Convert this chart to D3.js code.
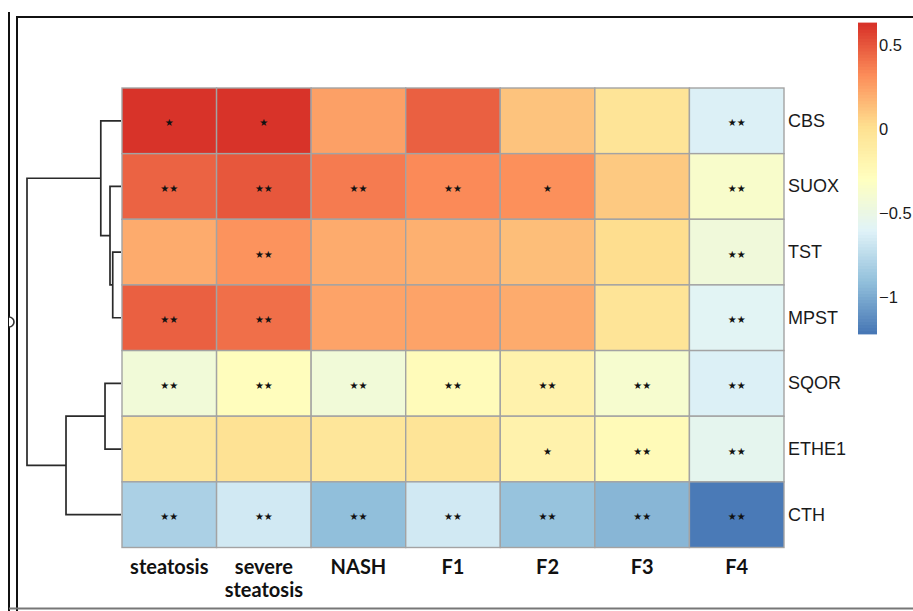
<!DOCTYPE html>
<html>
<head>
<meta charset="utf-8">
<script src="https://cdn.jsdelivr.net/npm/d3@7"></script>
<style>
  body { margin: 0; background: #fff; }
  svg { display: block; }
</style>
</head>
<body>
<svg id="chart" width="913" height="611"></svg>
<script>
// ---- data -------------------------------------------------------------
const genes  = ["CBS", "SUOX", "TST", "MPST", "SQOR", "ETHE1", "CTH"];
const stages = ["steatosis", "severe steatosis", "NASH", "F1", "F2", "F3", "F4"];

// log fold change per gene across the disease stages
const valCBS   = [ 0.62,  0.62,  0.25,  0.47,  0.12, -0.03, -0.62];
const valSUOX  = [ 0.46,  0.50,  0.38,  0.33,  0.31,  0.10, -0.36];
const valTST   = [ 0.21,  0.30,  0.21,  0.19,  0.14,  0.02, -0.44];
const valMPST  = [ 0.47,  0.42,  0.24,  0.24,  0.21, -0.03, -0.58];
const valSQOR  = [-0.43, -0.28, -0.43, -0.26, -0.17, -0.38, -0.62];
const valETHE1 = [-0.05, -0.01, -0.05, -0.03, -0.17, -0.25, -0.55];
const valCTH   = [-0.81, -0.66, -0.91, -0.66, -0.89, -0.95, -1.20];

// significance marks per gene
const sigCBS   = ["*",  "*",  "",   "",   "",   "",   "**"];
const sigSUOX  = ["**", "**", "**", "**", "*",  "",   "**"];
const sigTST   = ["",   "**", "",   "",   "",   "",   "**"];
const sigMPST  = ["**", "**", "",   "",   "",   "",   "**"];
const sigSQOR  = ["**", "**", "**", "**", "**", "**", "**"];
const sigETHE1 = ["",   "",   "",   "",   "*",  "**", "**"];
const sigCTH   = ["**", "**", "**", "**", "**", "**", "**"];

// row clustering (merge heights, relative)
const rowTree = {
  height: 1.0, children: [
    { height: 0.215, children: [
      { name: "CBS" },
      { height: 0.117, children: [
        { name: "SUOX" },
        { height: 0.088, children: [{ name: "TST" }, { name: "MPST" }] }
      ]}
    ]},
    { height: 0.585, children: [
      { height: 0.17, children: [{ name: "SQOR" }, { name: "ETHE1" }] },
      { name: "CTH" }
    ]}
  ]
};

const legendTicks = [0.5, 0, -0.5, -1];
const colorDomain = [-1.22, 0.63];
const palette = ["#4575B4", "#91BFDB", "#E0F3F8", "#FFFFBF", "#FEE090", "#FC8D59", "#D73027"];

// ---- build matrix -----------------------------------------------------
const values = [valCBS, valSUOX, valTST, valMPST, valSQOR, valETHE1, valCTH];
const marks  = [sigCBS, sigSUOX, sigTST, sigMPST, sigSQOR, sigETHE1, sigCTH];
const cells = [];
genes.forEach((g, i) => stages.forEach((s, j) =>
  cells.push({ gene: g, stage: s, value: values[i][j], mark: marks[i][j] })));

// ---- scales -------------------------------------------------------------
const svg = d3.select("#chart");

const x = d3.scaleBand().domain(stages).range([122, 784]);
const y = d3.scaleBand().domain(genes).range([88, 547.5]);

const stops = d3.range(palette.length).map(k =>
  colorDomain[0] + (colorDomain[1] - colorDomain[0]) * k / (palette.length - 1));
const color = d3.scaleLinear().domain(stops).range(palette).interpolate(d3.interpolateRgb).clamp(true);

// ---- outer frame ----------------------------------------------------------
const frame = svg.append("g").attr("fill", "none");
frame.append("line").attr("x1", 9).attr("x2", 9).attr("y1", 12).attr("y2", 611)
  .attr("stroke", "#111").attr("stroke-width", 2);
frame.append("path").attr("d", "M9,317 A5,5 0 0,1 9,327")
  .attr("stroke", "#333").attr("stroke-width", 1.6).attr("fill", "#fff");
frame.append("path").attr("d", "M17,611 V17 H913")
  .attr("stroke", "#111").attr("stroke-width", 2);
frame.append("line").attr("x1", 9).attr("x2", 913).attr("y1", 608.5).attr("y2", 608.5)
  .attr("stroke", "#777").attr("stroke-width", 2);

// ---- heatmap cells --------------------------------------------------------
svg.append("g").selectAll("rect").data(cells).join("rect")
  .attr("x", d => x(d.stage))
  .attr("y", d => y(d.gene))
  .attr("width", x.bandwidth())
  .attr("height", y.bandwidth())
  .attr("fill", d => color(d.value))
  .attr("stroke", "#a3a3a3")
  .attr("stroke-width", 1.4);

svg.append("g").selectAll("text").data(cells.filter(d => d.mark)).join("text")
  .attr("x", d => x(d.stage) + x.bandwidth() / 2)
  .attr("y", d => y(d.gene) + y.bandwidth() / 2 + 2)
  .attr("text-anchor", "middle")
  .attr("dominant-baseline", "central")
  .attr("font-family", "DejaVu Sans")
  .attr("font-size", 10)
  .attr("fill", "#111")
  .text(d => d.mark.replace(/\*/g, "\u2605"));

// ---- row labels -----------------------------------------------------------
svg.append("g").selectAll("text").data(genes).join("text")
  .attr("x", 788)
  .attr("y", d => y(d) + y.bandwidth() / 2)
  .attr("dominant-baseline", "central")
  .attr("font-family", "Liberation Sans, Arial, sans-serif")
  .attr("font-size", 18)
  .attr("fill", "#1a1a1a")
  .text(d => d);

// ---- column labels --------------------------------------------------------
const colLab = svg.append("g").selectAll("text").data(stages).join("text")
  .attr("x", d => x(d) + x.bandwidth() / 2)
  .attr("y", 574)
  .attr("text-anchor", "middle")
  .attr("font-family", "Lato, sans-serif")
  .attr("font-weight", 700)
  .attr("font-size", 20)
  .attr("fill", "#111");
colLab.selectAll("tspan").data(d => d.split(" ").map(w => ({ w, cx: x(d) + x.bandwidth() / 2 })))
  .join("tspan")
  .attr("x", t => t.cx)
  .attr("dy", (t, i) => i === 0 ? 0 : 23)
  .text(t => t.w);

// ---- row dendrogram -------------------------------------------------------
const root = d3.hierarchy(rowTree);
const hx = d3.scaleLinear().domain([0, root.data.height]).range([121, 27]);
root.eachAfter(n => {
  if (n.children) {
    n.py = d3.mean(n.children, c => c.py);
    n.px = hx(n.data.height);
  } else {
    n.py = y(n.data.name) + y.bandwidth() / 2;
    n.px = hx(0);
  }
});
const dendro = svg.append("g").attr("fill", "none").attr("stroke", "#2a2a2a").attr("stroke-width", 1.7);
dendro.selectAll("path").data(root.descendants().filter(n => n.children)).join("path")
  .attr("d", n => {
    const [a, b] = n.children;
    return `M${a.px},${a.py} H${n.px} V${b.py} H${b.px}`;
  });

// ---- colour legend --------------------------------------------------------
const ly = d3.scaleLinear().domain(colorDomain).range([334, 23]);
const steps = d3.range(100).map(k => colorDomain[0] + (colorDomain[1] - colorDomain[0]) * k / 100);
const stepH = (ly(colorDomain[0]) - ly(colorDomain[1])) / 100;
svg.append("g").selectAll("rect").data(steps).join("rect")
  .attr("x", 858)
  .attr("width", 19)
  .attr("y", v => ly(v) - stepH - 0.4)
  .attr("height", stepH + 0.8)
  .attr("fill", v => color(v + (colorDomain[1] - colorDomain[0]) / 200));

svg.append("g").selectAll("text").data(legendTicks).join("text")
  .attr("x", 879)
  .attr("y", v => ly(v))
  .attr("dominant-baseline", "central")
  .attr("font-family", "Liberation Sans, Arial, sans-serif")
  .attr("font-size", 16.5)
  .attr("fill", "#1a1a1a")
  .text(v => d3.format("")(v).replace("-", "\u2212"));
</script>
</body>
</html>
